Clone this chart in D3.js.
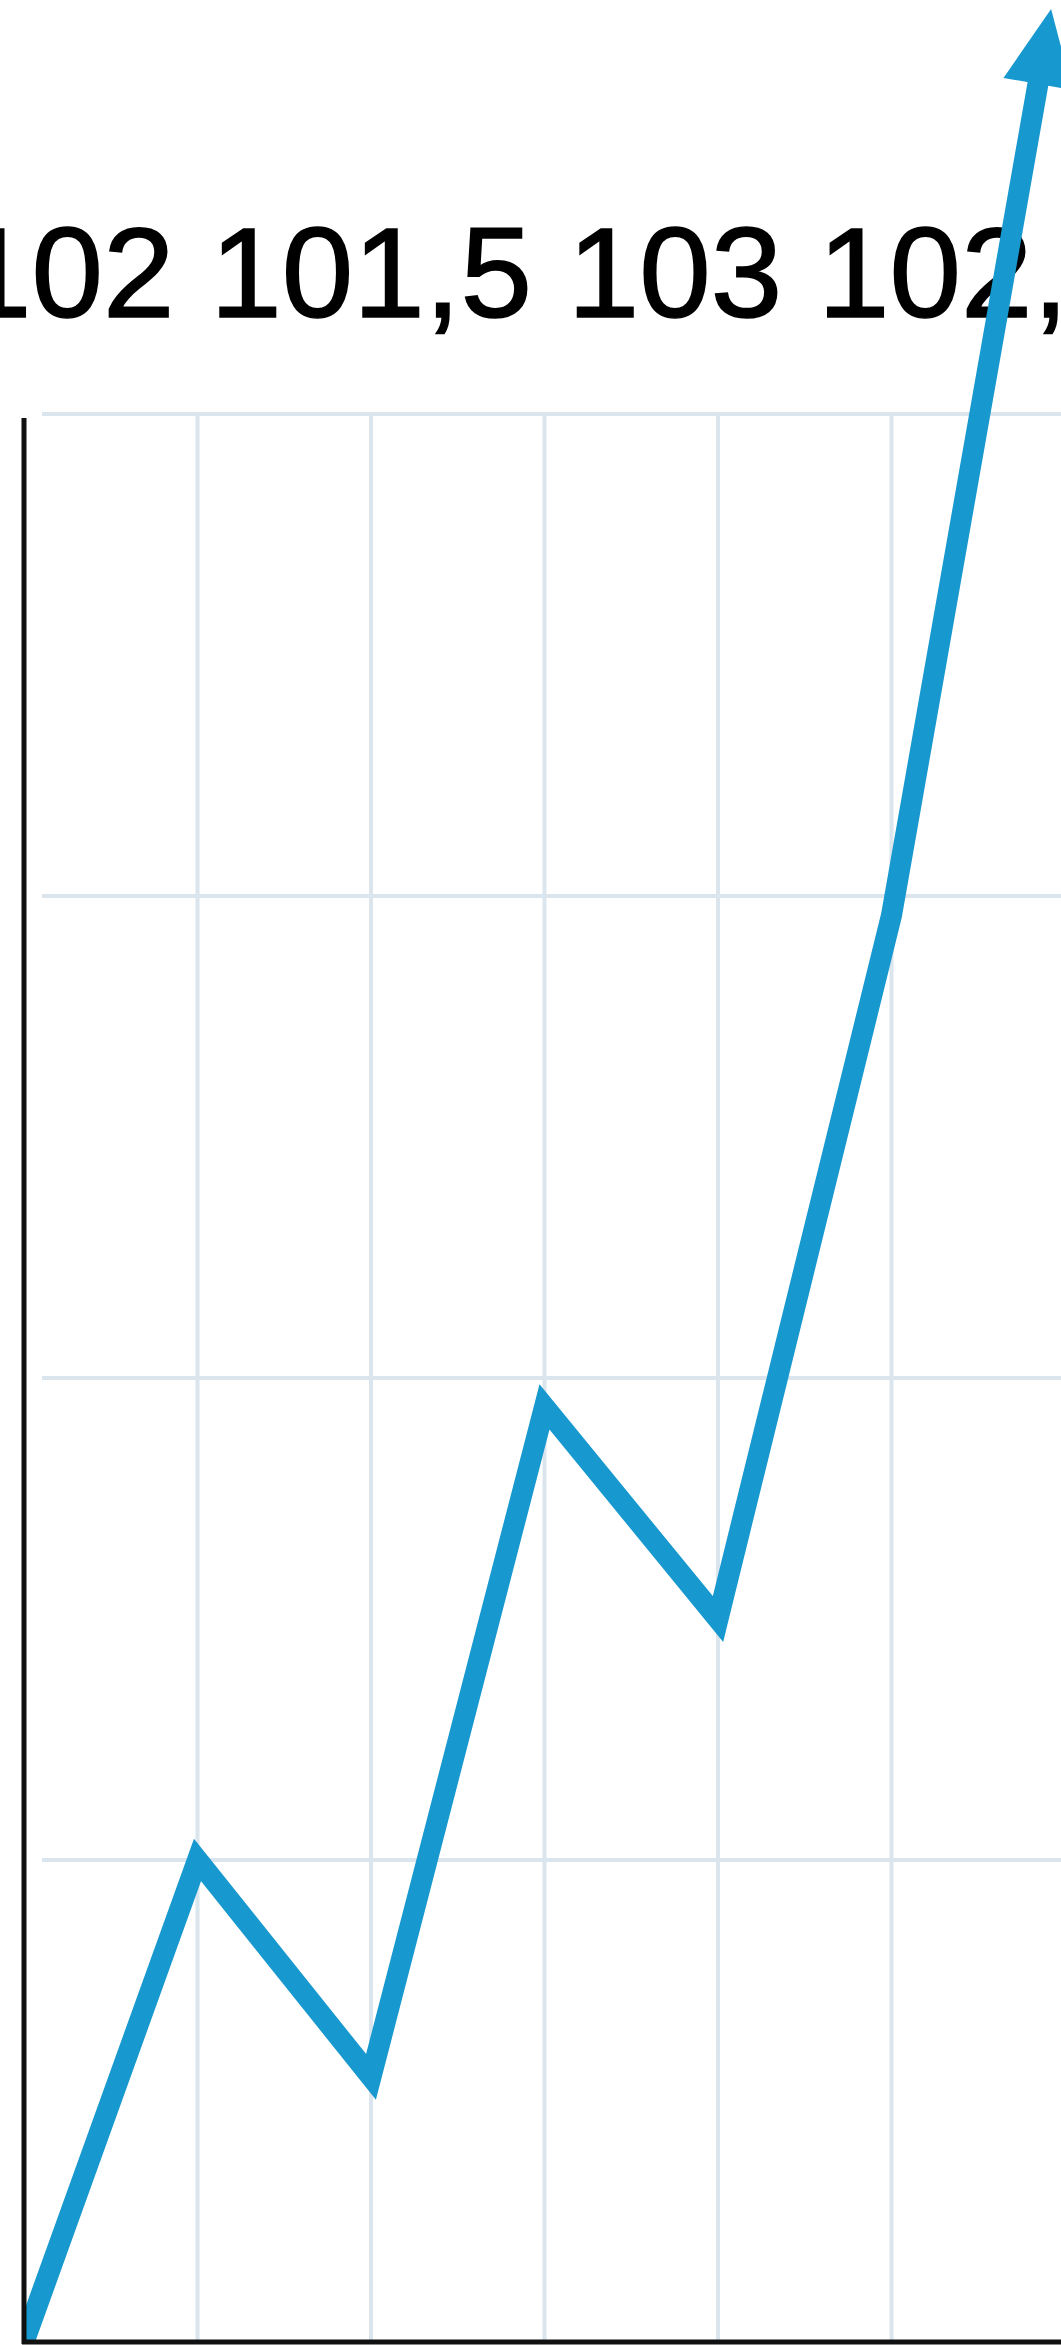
<!DOCTYPE html>
<html>
<head>
<meta charset="utf-8">
<script src="https://cdn.jsdelivr.net/npm/d3@7"></script>
<style>
  html, body { margin: 0; padding: 0; background: #ffffff; }
  svg { display: block; }
</style>
</head>
<body>
<svg id="chart" width="1061" height="2345"></svg>
<script>
// ---- data ----
const steps = [0, 1, 2, 3, 4, 5];
const values = [101, 102, 101.55, 102.94, 102.5, 103.96];
const trendEnd = { step: 5.92, value: 105.84 };
const valueLabels = ["102", "101,5", "103", "102,5"];
const gridSteps = [1, 2, 3, 4, 5, 6];
const gridValues = [102, 103, 104, 105];

// ---- layout ----
const W = 1061, H = 2345;
const svg = d3.select("#chart");
svg.append("rect").attr("width", W).attr("height", H).attr("fill", "#ffffff");

const x = d3.scaleLinear().domain([0, 6]).range([24, 24 + 6 * 173.5]);
const y = d3.scaleLinear().domain([101, 105]).range([2342, 414]);

const gridColor = "#dbe5ee";
const blue = "#1798cf";

// gridlines
svg.append("g").selectAll("line").data(gridSteps).join("line")
  .attr("x1", d => x(d)).attr("x2", d => x(d))
  .attr("y1", y(105)).attr("y2", y(101))
  .attr("stroke", gridColor).attr("stroke-width", 4);
svg.append("g").selectAll("line").data(gridValues).join("line")
  .attr("x1", x(0) + 18).attr("x2", W)
  .attr("y1", d => y(d)).attr("y2", d => y(d))
  .attr("stroke", gridColor).attr("stroke-width", 4);

// labels on top
svg.append("text")
  .attr("x", -40)
  .attr("y", 317)
  .attr("font-family", "'Liberation Sans', Arial, sans-serif")
  .attr("font-size", 128.6)
  .attr("fill", "#000")
  .attr("stroke", "#000")
  .attr("stroke-width", 1.6)
  .attr("xml:space", "preserve")
  .text(valueLabels.join(" "));

// line with trend arrow
svg.append("clipPath").attr("id", "plotclip")
  .append("rect").attr("x", x(0)).attr("y", 0)
  .attr("width", W - x(0)).attr("height", y(101));

const pts = steps.map((s, i) => [x(s), y(values[i])]);
const tip = [x(trendEnd.step), y(trendEnd.value)];
const last = pts[pts.length - 1];
const dx = tip[0] - last[0], dy = tip[1] - last[1];
const len = Math.hypot(dx, dy);
const ux = dx / len, uy = dy / len;
const headL = 76, headW = 35;
const shaftEnd = [tip[0] - (headL - 12) * ux, tip[1] - (headL - 12) * uy];
const base = [tip[0] - headL * ux, tip[1] - headL * uy];

svg.append("path")
  .datum(pts.concat([shaftEnd]))
  .attr("clip-path", "url(#plotclip)")
  .attr("d", d3.line())
  .attr("fill", "none")
  .attr("stroke", blue)
  .attr("stroke-width", 21)
  .attr("stroke-linejoin", "miter")
  .attr("stroke-miterlimit", 10);

svg.append("path")
  .attr("d", d3.line()([
    tip,
    [base[0] - headW * uy, base[1] + headW * ux],
    [base[0] + headW * uy, base[1] - headW * ux]
  ]) + "Z")
  .attr("fill", blue);

// axes
svg.append("line")
  .attr("x1", x(0)).attr("x2", x(0))
  .attr("y1", y(105) + 4).attr("y2", y(101) + 2)
  .attr("stroke", "#111").attr("stroke-width", 5);
svg.append("line")
  .attr("x1", x(0) - 2).attr("x2", W)
  .attr("y1", y(101)).attr("y2", y(101))
  .attr("stroke", "#111").attr("stroke-width", 5);
</script>
</body>
</html>
